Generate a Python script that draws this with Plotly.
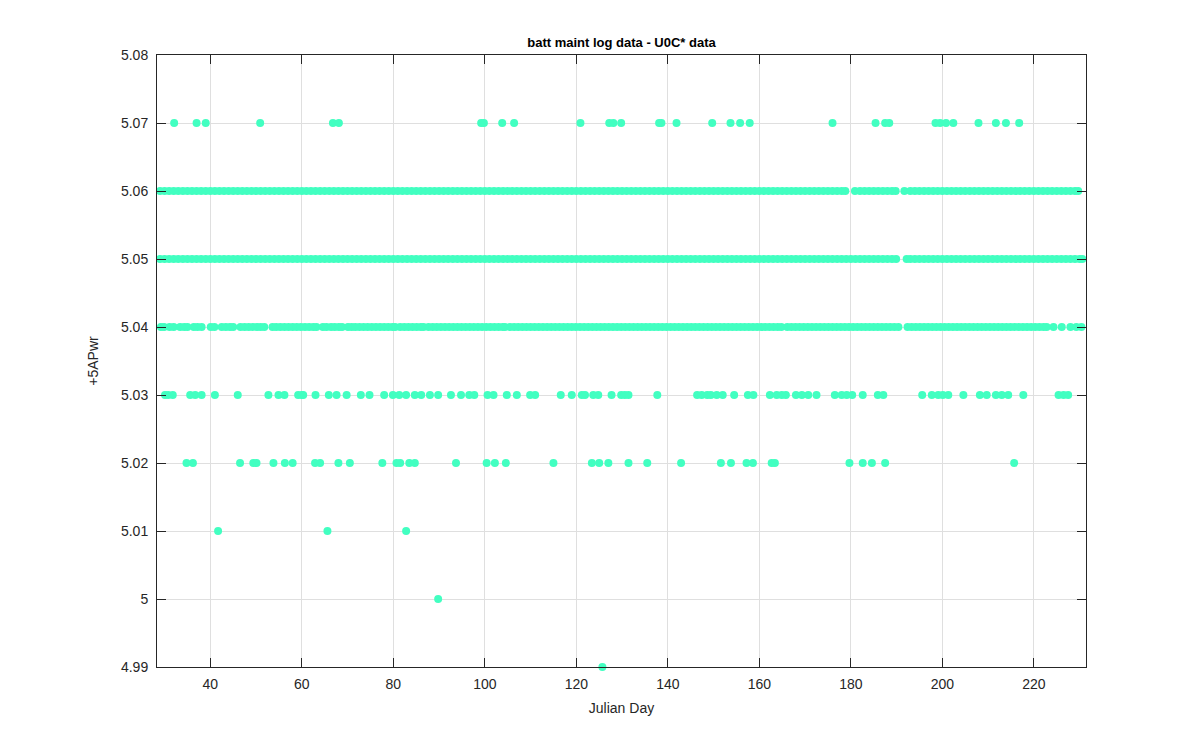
import plotly.graph_objects as go

days_507 = [32.1, 37.0, 39.0, 50.9, 66.8, 68.1, 99.2, 99.8, 103.8, 106.4, 120.9, 127.2, 128.1,
            129.8, 138.1, 138.6, 141.9, 149.7, 153.7, 155.8, 157.9, 176.0, 185.4, 187.5, 188.4,
            198.5, 199.5, 200.8, 202.4, 207.9, 211.7, 213.9, 216.8]

days_506 = [29, 30, 31, 32, 33, 34, 35, 36, 37, 38, 39, 40, 41, 42, 43, 44, 45, 46, 47, 48, 49,
            50, 51, 52, 53, 54, 55, 56, 57, 58, 59, 60, 61, 62, 63, 64, 65, 66, 67, 68, 69, 70,
            71, 72, 73, 74, 75, 76, 77, 78, 79, 80, 81, 82, 83, 84, 85, 86, 87, 88, 89, 90, 91,
            92, 93, 94, 95, 96, 97, 98, 99, 100, 101, 102, 103, 104, 105, 106, 107, 108, 109,
            110, 111, 112, 113, 114, 115, 116, 117, 118, 119, 120, 121, 122, 123, 124, 125, 126,
            127, 128, 129, 130, 131, 132, 133, 134, 135, 136, 137, 138, 139, 140, 141, 142, 143,
            144, 145, 146, 147, 148, 149, 150, 151, 152, 153, 154, 155, 156, 157, 158, 159, 160,
            161, 162, 163, 164, 165, 166, 167, 168, 169, 170, 171, 172, 173, 174, 175, 176, 177,
            178, 178.8, 180.9, 182, 183, 184, 185, 186, 187, 188, 189, 189.8, 191.7, 193, 194,
            195, 196, 197, 198, 199, 200, 201, 202, 203, 204, 205, 206, 207, 208, 209, 210, 211,
            212, 213, 214, 215, 216, 217, 218, 219, 220, 221, 222, 223, 224, 225, 226, 227, 228,
            229, 229.7]

days_505 = [29, 30, 31, 32, 33, 34, 35, 36, 37, 38, 39, 40, 41, 42, 43, 44, 45, 46, 47, 48, 49,
            50, 51, 52, 53, 54, 55, 56, 57, 58, 59, 60, 61, 62, 63, 64, 65, 66, 67, 68, 69, 70,
            71, 72, 73, 74, 75, 76, 77, 78, 79, 80, 81, 82, 83, 84, 85, 86, 87, 88, 89, 90, 91,
            92, 93, 94, 95, 96, 97, 98, 99, 100, 101, 102, 103, 104, 105, 106, 107, 108, 109,
            110, 111, 112, 113, 114, 115, 116, 117, 118, 119, 120, 121, 122, 123, 124, 125, 126,
            127, 128, 129, 130, 131, 132, 133, 134, 135, 136, 137, 138, 139, 140, 141, 142, 143,
            144, 145, 146, 147, 148, 149, 150, 151, 152, 153, 154, 155, 156, 157, 158, 159, 160,
            161, 162, 163, 164, 165, 166, 167, 168, 169, 170, 171, 172, 173, 174, 175, 176, 177,
            178, 179, 180, 181, 182, 183, 184, 185, 186, 187, 188, 189, 189.9, 192.2, 193, 194,
            195, 196, 197, 198, 199, 200, 201, 202, 203, 204, 205, 206, 207, 208, 209, 210, 211,
            212, 213, 214, 215, 216, 217, 218, 219, 220, 221, 222, 223, 224, 225, 226, 227, 228,
            229, 230, 230.6]

days_504 = [29.2, 29.9, 31.1, 32.0, 33.4, 34.3, 35.0, 36.4, 37.2, 38.1, 40.1, 40.9, 42.5, 43.4,
            44.3, 45.0, 46.6, 47.5, 48.4, 49.3, 50.2, 51.0, 51.8, 53.6, 54.4, 55.3, 56.2, 57.1,
            58.0, 58.9, 59.8, 60.7, 61.6, 62.5, 63.2, 64.6, 65.4, 66.4, 67.2, 68.1, 68.8, 70.1,
            70.9, 71.7, 72.6, 73.5, 74.4, 75.3, 76.2, 77.1, 78.0, 78.9, 79.8, 80.4, 81.5, 82.4,
            83.3, 84.2, 85.1, 86.0, 86.6, 87.7, 88.6, 89.5, 90.4, 91.3, 92.2, 93.1, 94.0, 94.9,
            95.8, 96.7, 97.6, 98.5, 99.4, 100.3, 101.2, 102.1, 103.0, 103.9, 104.4, 105.5, 106.4,
            107.3, 108.2, 109.1, 110.0, 110.9, 111.8, 112.7, 113.6, 114.5, 115.4, 116.3, 117.2,
            118.1, 119.0, 119.9, 120.8, 121.7, 122.6, 123.5, 124.4, 125.3, 126.2, 127.1, 128.0,
            128.9, 129.8, 130.7, 131.6, 132.5, 133.4, 134.3, 135.2, 136.1, 137.0, 137.9, 138.8,
            139.7, 140.6, 141.5, 142.4, 143.3, 144.2, 145.1, 146.0, 146.9, 147.8, 148.7, 149.6,
            150.5, 151.4, 152.3, 153.2, 154.1, 155.0, 155.9, 156.8, 157.7, 158.6, 159.5, 160.4,
            161.3, 162.2, 163.1, 164.0, 164.8, 166.1, 167.0, 167.9, 168.8, 169.7, 170.6, 171.5,
            172.4, 173.3, 174.2, 175.1, 176.0, 176.9, 177.8, 178.7, 179.6, 180.5, 181.4, 182.3,
            183.2, 184.1, 185.0, 185.9, 186.8, 187.7, 188.6, 189.5, 190.4, 192.4, 193.3, 194.2,
            195.1, 196.0, 196.9, 197.8, 198.7, 199.6, 200.5, 201.4, 202.3, 203.2, 204.1, 205.0,
            205.9, 206.8, 207.7, 208.6, 209.5, 210.4, 211.3, 212.2, 213.1, 214.0, 214.9, 215.8,
            216.7, 217.6, 218.5, 219.4, 220.3, 221.2, 222.1, 222.8, 224.3, 226.1, 228.0, 229.3,
            230.4]

days_503 = [30.1, 30.8, 31.8, 35.6, 36.7, 38.1, 41.0, 46.0, 52.7, 54.9, 56.2, 59.2, 60.0, 60.3,
            63.0, 65.9, 67.6, 69.8, 72.9, 74.8, 78.0, 79.9, 81.3, 82.8, 84.7, 86.1, 88.0, 89.8,
            92.6, 94.8, 96.6, 97.7, 100.6, 101.9, 104.8, 107.0, 109.9, 111.0, 116.6, 119.0, 121.2,
            121.9, 123.7, 124.8, 127.7, 129.8, 130.6, 131.4, 137.7, 146.4, 147.4, 148.6, 149.4,
            150.7, 152.0, 154.5, 157.5, 158.7, 162.3, 163.8, 164.9, 165.8, 168.0, 169.3, 170.7,
            172.5, 176.5, 178.0, 179.1, 180.3, 182.6, 185.9, 187.1, 195.6, 197.7, 199.1, 200.1,
            201.3, 204.6, 208.2, 209.7, 211.7, 213.0, 214.4, 217.7, 225.4, 226.5, 227.5]

days_502 = [34.8, 36.2, 46.5, 49.4, 50.1, 53.8, 56.3, 58.0, 62.9, 64.0, 68.0, 70.5, 77.6, 80.7,
            81.5, 83.5, 84.7, 93.7, 100.4, 102.2, 104.6, 115.0, 123.4, 125.0, 127.0, 131.4, 135.5,
            142.9, 151.6, 153.8, 157.2, 158.6, 162.7, 163.4, 179.7, 182.6, 184.6, 187.5, 215.7]

days_501 = [41.7, 65.6, 82.8]
days_500 = [89.8]
days_499 = [125.7]

levels = [5.07, 5.06, 5.05, 5.04, 5.03, 5.02, 5.01, 5.00, 4.99]
level_days = [days_507, days_506, days_505, days_504, days_503, days_502, days_501, days_500, days_499]

x_ticks = [40, 60, 80, 100, 120, 140, 160, 180, 200, 220]
y_ticks = [4.99, 5.00, 5.01, 5.02, 5.03, 5.04, 5.05, 5.06, 5.07, 5.08]
y_tick_text = ["4.99", "5", "5.01", "5.02", "5.03", "5.04", "5.05", "5.06", "5.07", "5.08"]

xs, ys = [], []
for lv, dl in zip(levels, level_days):
    xs.extend(dl)
    ys.extend([lv] * len(dl))

FONT = "Liberation Sans, Arial, sans-serif"

fig = go.Figure()
fig.add_trace(go.Scatter(
    x=xs, y=ys, mode="markers",
    marker=dict(size=8, color="#42FFC1", line=dict(width=0)),
    cliponaxis=False, showlegend=False,
))

axis_common = dict(
    showline=True, linecolor="#262626", linewidth=1, mirror="allticks",
    ticks="inside", ticklen=9, tickcolor="#262626", tickwidth=1,
    showgrid=True, gridcolor="#dfdfdf", gridwidth=1, zeroline=False,
    tickfont=dict(family=FONT, size=14, color="#262626"),
)

W, H = 1192, 742
fig.update_layout(
    width=W, height=H,
    margin=dict(l=149, r=114, t=47, b=83),
    paper_bgcolor="white", plot_bgcolor="white",
    title=dict(text="<b>batt maint log data - U0C* data</b>",
               font=dict(family=FONT, size=13, color="black"),
               x=0.5, xref="paper", y=1 - 34 / H, yref="container",
               xanchor="center", yanchor="middle"),
    xaxis=dict(range=[28.35, 231.4], tickvals=x_ticks, ticklabelstandoff=4,
               title=dict(text="Julian Day", standoff=12,
                          font=dict(family=FONT, size=14, color="#262626")),
               **axis_common),
    yaxis=dict(range=[4.99, 5.08], tickvals=y_ticks, ticktext=y_tick_text, ticklabelstandoff=5,
               title=dict(text="+5APwr", standoff=19,
                          font=dict(family=FONT, size=14, color="#262626")),
               **axis_common),
)

fig.write_html("out.html")
